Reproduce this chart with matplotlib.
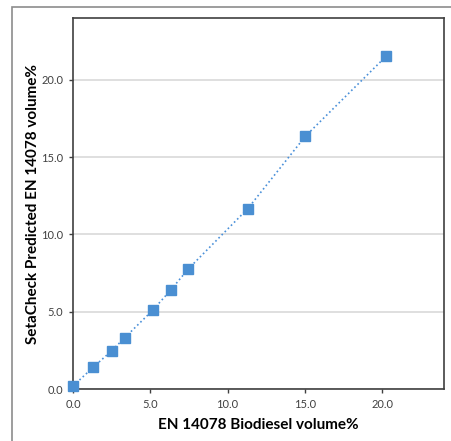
import matplotlib.pyplot as plt
from matplotlib.patches import Rectangle

# EN 14078 reference vs SetaCheck predicted (volume %)
reference = [0.0, 1.32, 2.51, 3.35, 5.15, 6.32, 7.47, 11.30, 15.04, 20.26]
predicted = [0.19, 1.42, 2.48, 3.32, 5.09, 6.40, 7.78, 11.66, 16.36, 21.53]
ticks = [0, 5, 10, 15, 20]
tick_labels = ['0.0', '5.0', '10.0', '15.0', '20.0']

plt.rcParams['font.family'] = ['Lato', 'DejaVu Sans']

fig = plt.figure(figsize=(4.51, 4.41), dpi=100)
ax = fig.add_axes([73 / 451, 52 / 441, 371 / 451, 371 / 441])

# outer frame of the picture
fig.patches.append(Rectangle((12 / 451, -0.5), 2, 1.5 - 7 / 441, transform=fig.transFigure,
                             fill=False, edgecolor='#8c8c8c', linewidth=1.2))

ax.plot(reference, predicted, linestyle=':', color='#4a90d9', linewidth=1.2,
        marker='s', markersize=7.5, markerfacecolor='#4a8fd2',
        markeredgecolor='#4a8fd2', clip_on=False, zorder=3)

ax.set_xlim(0, 24)
ax.set_ylim(0, 24)
ax.set_xticks(ticks)
ax.set_xticklabels(tick_labels)
ax.set_yticks(ticks)
ax.set_yticklabels(tick_labels)
ax.tick_params(axis='both', direction='out', length=3, width=1, color='#404040',
               labelsize=8, labelcolor='#404040', pad=4)
ax.yaxis.grid(True, color='#d9d9d9', linewidth=1.2)
ax.set_axisbelow(True)
for s in ax.spines.values():
    s.set_color('#404040')
    s.set_linewidth(1.2)

ax.set_xlabel('EN 14078 Biodiesel volume%', fontsize=11, fontweight='bold', labelpad=6)
ax.set_ylabel('SetaCheck Predicted EN 14078 volume%', fontsize=11, fontweight='bold', labelpad=1)

plt.savefig('out.png', dpi=100)
